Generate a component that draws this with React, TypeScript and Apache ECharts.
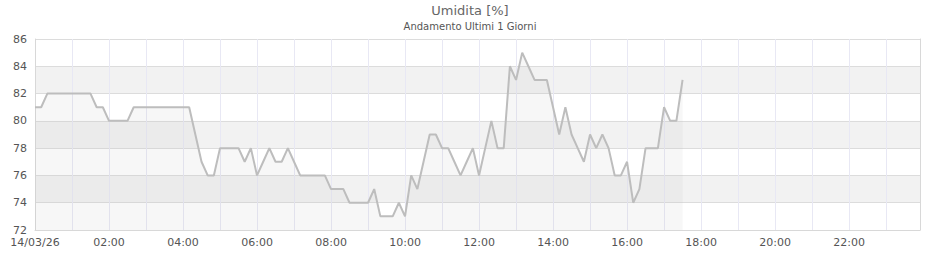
import React, { useEffect, useRef } from "react";
import * as echarts from "echarts";

const title = "Umidita [%]";
const subtitle = "Andamento Ultimi 1 Giorni";
const dateLabel = "14/03/26";
const stepMinutes = 10; // sampling step of the readings, starting at 00:00
const humidity = [
  81, 81, 82, 82, 82, 82, 82, 82, 82, 82,
  81, 81, 80, 80, 80, 80, 81, 81, 81, 81,
  81, 81, 81, 81, 81, 81, 79, 77, 76, 76,
  78, 78, 78, 78, 77, 78, 76, 77, 78, 77,
  77, 78, 77, 76, 76, 76, 76, 76, 75, 75,
  75, 74, 74, 74, 74, 75, 73, 73, 73, 74,
  73, 76, 75, 77, 79, 79, 78, 78, 77, 76,
  77, 78, 76, 78, 80, 78, 78, 84, 83, 85,
  84, 83, 83, 83, 81, 79, 81, 79, 78, 77,
  79, 78, 79, 78, 76, 76, 77, 74, 75, 78,
  78, 78, 81, 80, 80, 83,
];
const yMin = 72;
const yMax = 86;
const yStep = 2;
const xMaxMinutes = 1435;

const pad = (n: number) => (n < 10 ? "0" + n : "" + n);

export default function App() {
  const ref = useRef<HTMLDivElement>(null);
  useEffect(() => {
    if (!ref.current) return;
    const chart = echarts.init(ref.current, undefined, { renderer: "svg" });
    const data = humidity.map((v, i) => [i * stepMinutes, v]);
    const font = "DejaVu Sans";
    chart.setOption({
      animation: false,
      title: [
        {
          text: title,
          left: "center",
          top: 4,
          padding: 0,
          textStyle: { fontFamily: font, fontSize: 13, fontWeight: "normal", color: "#666" },
        },
        {
          text: subtitle,
          left: "center",
          top: 21,
          padding: 0,
          textStyle: { fontFamily: font, fontSize: 10, fontWeight: "normal", color: "#555" },
        },
      ],
      grid: { left: 35, right: 20, top: 39, bottom: 30, containLabel: false },
      xAxis: {
        type: "value",
        min: 0,
        max: xMaxMinutes,
        interval: 60,
        axisLine: { show: true, lineStyle: { color: "#d8d8d8", width: 1 } },
        axisTick: { show: false },
        splitLine: { show: true, lineStyle: { color: "#e8e8f4", width: 1 } },
        axisLabel: {
          fontFamily: font,
          fontSize: 11,
          color: "#555",
          margin: 7,
          showMaxLabel: false,
          formatter: (v: number) => {
            if (v === 0) return dateLabel;
            if (v % 120 !== 0) return "";
            const h = Math.floor(v / 60);
            return pad(h) + ":" + pad(v % 60);
          },
        },
      },
      yAxis: [
        {
          type: "value",
          min: yMin,
          max: yMax,
          interval: yStep,
          axisLine: { show: true, lineStyle: { color: "#d8d8d8", width: 1 } },
          axisTick: { show: false },
          axisLabel: { fontFamily: font, fontSize: 11, color: "#555", margin: 8 },
          splitLine: { show: true, lineStyle: { color: "#dcdcdc", width: 1 } },
          splitArea: { show: true, areaStyle: { color: ["#ffffff", "#f2f2f2"] } },
        },
        {
          type: "value",
          position: "right",
          min: yMin,
          max: yMax,
          interval: yStep,
          axisLine: { show: true, lineStyle: { color: "#d8d8d8", width: 1 } },
          axisTick: { show: false },
          axisLabel: { show: false },
          splitLine: { show: false },
        },
      ],
      series: [
        {
          type: "line",
          data,
          symbol: "none",
          lineStyle: { color: "#bdbdbd", width: 2 },
          areaStyle: { color: "#bdbdbd", opacity: 0.12, origin: "start" },
        },
      ],
    });
    return () => chart.dispose();
  }, []);
  return <div ref={ref} style={{ width: 940, height: 260, position: "absolute", left: 0, top: 0 }} />;
}
